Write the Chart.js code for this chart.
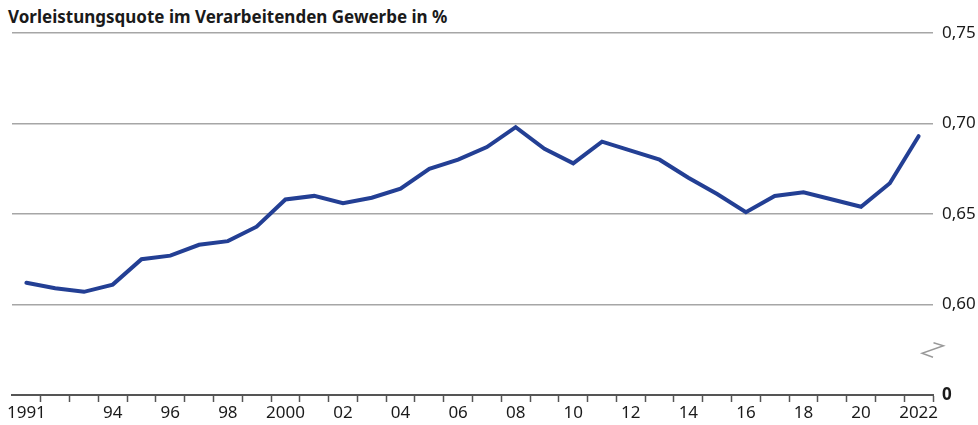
<!DOCTYPE html>
<html lang="de">
<head>
<meta charset="utf-8">
<title>Vorleistungsquote im Verarbeitenden Gewerbe</title>
<script src="https://cdn.jsdelivr.net/npm/chart.js@4.4.1/dist/chart.umd.min.js"></script>
<style>
    html, body { margin: 0; padding: 0; background: #fff; }
    #wrap { position: relative; width: 978px; height: 425px; }
    #title {
        position: absolute; left: 8px; top: 5px; margin: 0;
        font: bold 17px "Noto Sans", sans-serif; color: #1a1a1a;
    }
    canvas { position: absolute; left: 0; top: 0; }
</style>
</head>
<body>
<div id="wrap">
    <h1 id="title">Vorleistungsquote im Verarbeitenden Gewerbe in %</h1>
    <canvas id="quoteChart" width="978" height="425"></canvas>
</div>
<script>
// Jahre 1991 bis 2022
const years = [
    1991, 1992, 1993, 1994, 1995, 1996, 1997, 1998, 1999, 2000, 2001,
    2002, 2003, 2004, 2005, 2006, 2007, 2008, 2009, 2010, 2011, 2012,
    2013, 2014, 2015, 2016, 2017, 2018, 2019, 2020, 2021, 2022
];

// Beschriftung der x-Achse (leer = kein Label)
const yearLabels = [
    '1991', '', '', '94', '', '96', '', '98', '', '2000', '',
    '02', '', '04', '', '06', '', '08', '', '10', '',
    '12', '', '14', '', '16', '', '18', '', '20', '', '2022'
];

// Vorleistungsquote
const quote = [
    0.612, 0.609, 0.607, 0.611, 0.625, 0.627, 0.633, 0.635, 0.643, 0.658, 0.660,
    0.656, 0.659, 0.664, 0.675, 0.680, 0.687, 0.698, 0.686, 0.678, 0.690, 0.685,
    0.680, 0.670, 0.661, 0.651, 0.660, 0.662, 0.658, 0.654, 0.667, 0.693
];

// Werte der y-Achse; der unterste steht fuer die 0 (Achsenbruch)
const yTicks = [0.55, 0.60, 0.65, 0.70, 0.75];
const yTickLabels = ['0', '0,60', '0,65', '0,70', '0,75'];

const lineColor = '#233f94';
const gridColor = '#a6a6a6';
const axisColor = '#555555';

// Achsenbruch-Zeichen rechts neben der Achse
const axisBreak = {
    id: 'axisBreak',
    afterDraw(chart) {
        const ctx = chart.ctx;
        const y = chart.scales.y.getPixelForValue(0.575);
        const x = chart.chartArea.right;
        ctx.save();
        ctx.strokeStyle = '#999999';
        ctx.lineWidth = 1.4;
        ctx.beginPath();
        ctx.moveTo(x + 0.5, y - 7);
        ctx.lineTo(x + 10.5, y - 4);
        ctx.lineTo(x - 11, y + 3.5);
        ctx.lineTo(x, y + 7.5);
        ctx.stroke();
        ctx.restore();
    }
};

const ctx = document.getElementById('quoteChart').getContext('2d');
new Chart(ctx, {
    type: 'line',
    data: {
        labels: years,
        datasets: [{
            data: quote,
            borderColor: lineColor,
            borderWidth: 4,
            pointRadius: 0,
            tension: 0,
            borderJoinStyle: 'miter',
            borderCapStyle: 'round'
        }]
    },
    options: {
        responsive: false,
        animation: false,
        layout: { padding: { left: 12, top: 33, right: 0, bottom: 0 } },
        plugins: {
            legend: { display: false },
            tooltip: { enabled: false }
        },
        scales: {
            x: {
                offset: true,
                afterFit(scale) { scale.height = 30; },
                grid: {
                    offset: true,
                    drawOnChartArea: false,
                    drawTicks: true,
                    tickLength: 7,
                    tickWidth: 1.5,
                    tickColor: c => (c.index === 0 || c.index >= years.length) ? 'rgba(0,0,0,0)' : axisColor
                },
                border: { display: true, color: axisColor, width: 2 },
                ticks: {
                    autoSkip: false,
                    maxRotation: 0,
                    padding: 1,
                    color: '#1a1a1a',
                    font: { family: 'Noto Sans', size: 17 },
                    callback: (v, i) => yearLabels[i]
                }
            },
            y: {
                position: 'right',
                min: 0.55,
                max: 0.75,
                afterFit(scale) { scale.width = 45; },
                afterBuildTicks(scale) {
                    scale.ticks = yTicks.map(v => ({ value: v }));
                },
                grid: {
                    drawTicks: false,
                    lineWidth: 1.5,
                    color: c => c.tick && c.tick.value === 0.55 ? 'rgba(0,0,0,0)' : gridColor
                },
                border: { display: false },
                ticks: {
                    padding: 9,
                    color: '#1a1a1a',
                    font: c => c.tick && c.tick.value === 0.55
                        ? { family: 'Noto Sans', size: 17, weight: 'bold' }
                        : { family: 'Noto Sans', size: 17 },
                    callback: (v, i) => yTickLabels[i]
                }
            }
        }
    },
    plugins: [axisBreak]
});
</script>
</body>
</html>
